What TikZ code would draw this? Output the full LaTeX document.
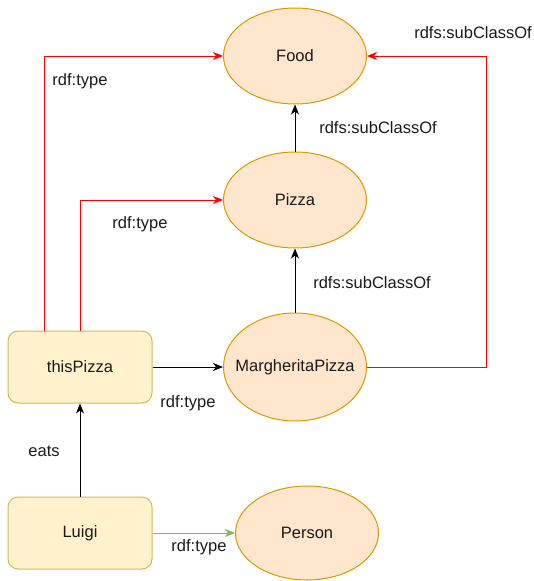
\documentclass[tikz,border=0pt]{standalone}
\usepackage{fontspec}
\setmainfont{Liberation Sans}
\usetikzlibrary{shapes.geometric,arrows.meta}
\definecolor{ellfill}{HTML}{FFE6CC}
\definecolor{elldraw}{HTML}{D79B00}
\definecolor{recfill}{HTML}{FFF2CC}
\definecolor{recdraw}{HTML}{D6B656}
\definecolor{grn}{HTML}{82B366}
\definecolor{txt}{HTML}{1A1A1A}
\begin{document}
\begin{tikzpicture}[x=1pt,y=-1pt,
  every node/.style={font=\fontsize{16.5}{19}\selectfont, text=txt},
  cls/.style={ellipse, draw=elldraw, fill=ellfill, line width=1pt, minimum width=143pt, minimum height=96pt, inner sep=0pt},
  inst/.style={rectangle, rounded corners=10pt, draw=recdraw, fill=recfill, line width=1pt, minimum width=144pt, minimum height=72pt, inner sep=0pt},
  conn/.style={line width=1pt, -{Stealth[length=10pt,width=8pt,inset=3pt]}},
  blk/.style={conn, draw=black},
  redc/.style={conn, draw=red},
  grnc/.style={conn, draw=grn},
  lbl/.style={inner sep=0pt}
]
\useasboundingbox (0,0) rectangle (533,581);
\node[cls] (food) at (295,56) {Food};
\node[cls] (pizza) at (295,200) {Pizza};
\node[cls, minimum height=108pt] (marg) at (295,367) {\makebox[0pt][c]{MargheritaPizza}};
\node[cls, minimum height=94pt] (person) at (307,533) {Person};
\node[inst] (this) at (80,367) {thisPizza};
\node[inst] (luigi) at (80,533) {Luigi};
\coordinate (rc) at (486,367);

\draw[blk] (pizza) -- (food);
\draw[blk] (marg) -- (pizza);
\draw[blk] (this) -- (marg);
\draw[blk] (luigi) -- (this);
\draw[grnc] (luigi) -- (person);
\draw[redc] ([xshift=-36pt]this.north) |- (food.west);
\draw[redc] (this.north) |- (pizza.west);
\draw[redc] (marg.east) -- (rc) |- (food.east);

\node[lbl] (l1) at (80,81) {rdf:type};
\node[lbl] (l2) at (473,33) {rdfs:subClassOf};
\node[lbl] (l3) at (378,128) {rdfs:subClassOf};
\node[lbl] (l4) at (140,224) {rdf:type};
\node[lbl] (l5) at (372,283) {rdfs:subClassOf};
\node[lbl] (l6) at (188,403) {rdf:type};
\node[lbl] (l7) at (44,451) {eats};
\node[lbl] (l8) at (199,547) {rdf:type};
\end{tikzpicture}
\end{document}
